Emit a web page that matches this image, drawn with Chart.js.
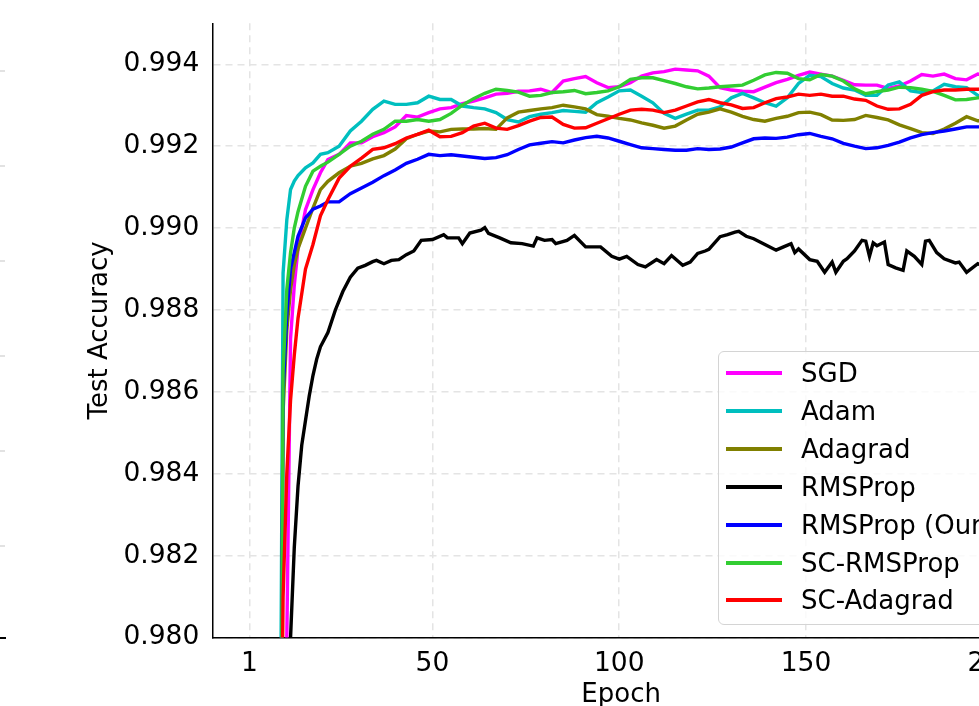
<!DOCTYPE html>
<html>
<head>
<meta charset="utf-8">
<script src="https://cdn.jsdelivr.net/npm/chart.js@4.4.0/dist/chart.umd.min.js"></script>
<style>
  html, body { margin: 0; padding: 0; background: #fff; overflow: hidden; width: 979px; height: 706px; }
  #c { position: absolute; left: 0; top: 0; }
  #legend {
    position: absolute; left: 718px; top: 351px; width: 320px; height: 274px;
    border: 1.3px solid #d4d4d4; border-radius: 6px; background: rgba(255,255,255,0.8);
    box-sizing: border-box; font-family: 'DejaVu Sans'; font-size: 26px; color: #000;
  }
  .row { position: absolute; left: 0; width: 320px; height: 38px; line-height: 38px; white-space: nowrap; }
  .swatch { position: absolute; left: 7px; top: 17px; width: 56px; height: 4px; }
  .label { position: absolute; left: 82px; top: 0; }
  .edge { position: absolute; left: 0; width: 5px; height: 1.5px; background: #e2e2e2; }
</style>
</head>
<body>
<canvas id="c" width="1060" height="760"></canvas>
<div id="legend"></div>
<div id="edges"></div>
<script>
// -----------------------------
// Data
// -----------------------------
const epochs = [9, 10, 11, 12, 13, 14, 16, 18, 20, 22, 25, 28, 31, 34, 37, 40, 43, 46, 49, 52,
    55, 58, 61, 64, 67, 70, 73, 76, 79, 82, 85, 88, 91, 94, 97, 100,
    103, 106, 109, 112, 115, 118, 121, 124, 127, 130, 133, 136, 139, 142, 145,
    148, 151, 154, 157, 160, 163, 166, 169, 172, 175, 178, 181, 184, 187, 190, 193, 196, 200];

const sgd = [0.965, 0.972, 0.9800, 0.9873, 0.9886, 0.9895, 0.99045, 0.99094, 0.99135, 0.99167,
    0.9918, 0.99208, 0.99208, 0.99223, 0.99233, 0.99247, 0.99275, 0.99271, 0.99282, 0.99291,
    0.99294, 0.99304, 0.9931, 0.99318, 0.99327, 0.99329, 0.99334, 0.99335, 0.99339, 0.99331,
    0.99359, 0.99365, 0.9937, 0.99355, 0.99343, 0.99345,
    0.99355, 0.99371, 0.99379, 0.99382, 0.99388, 0.99386, 0.99384, 0.99371, 0.99343, 0.99337,
    0.99334, 0.99333, 0.99344, 0.99355, 0.99363,
    0.99373, 0.99381, 0.99376, 0.99371, 0.99361, 0.9935, 0.99349, 0.99349, 0.99341, 0.99347,
    0.99359, 0.99375, 0.99371, 0.99376, 0.99365, 0.99362, 0.99376, 0.9937];

const adam = [0.972, 0.9889, 0.9902, 0.99094, 0.99115, 0.99128, 0.99147, 0.99159, 0.9918, 0.99184,
    0.992, 0.99237, 0.99261, 0.9929, 0.9931, 0.99302, 0.99302, 0.99306, 0.99322, 0.99314,
    0.99314, 0.99298, 0.99294, 0.99291, 0.99282, 0.99265, 0.99259, 0.99272, 0.99278, 0.99282,
    0.99287, 0.99285, 0.99283, 0.99306, 0.9932, 0.99335,
    0.99337, 0.99322, 0.99306, 0.9928, 0.99268, 0.99278, 0.99288, 0.99288, 0.99296, 0.99318,
    0.99329, 0.99318, 0.99306, 0.99298, 0.99318,
    0.99353, 0.99373, 0.9937, 0.99353, 0.99342, 0.99337, 0.99324, 0.99324, 0.99349, 0.99357,
    0.99335, 0.99331, 0.99335, 0.99351, 0.99345, 0.99343, 0.99324, 0.9932];

const adagrad = [0.968, 0.9855, 0.9875, 0.9885, 0.9891, 0.9895, 0.9900, 0.99049, 0.99094, 0.99114,
    0.99135, 0.99151, 0.99158, 0.99169, 0.99177, 0.99193, 0.99218, 0.99229, 0.99237, 0.99235,
    0.99241, 0.99242, 0.99242, 0.99243, 0.99241, 0.99269, 0.99283, 0.99287, 0.99291, 0.99294,
    0.993, 0.99296, 0.99291, 0.99277, 0.99273, 0.99268,
    0.99264, 0.99257, 0.99251, 0.99244, 0.99249, 0.99264, 0.99278, 0.99283, 0.99291, 0.99283,
    0.99273, 0.99265, 0.99261, 0.99268, 0.99273,
    0.99282, 0.99283, 0.99277, 0.99264, 0.99263, 0.99265, 0.99275, 0.9927, 0.99264, 0.99252,
    0.99243, 0.99233, 0.99231, 0.99242, 0.99256, 0.99272, 0.99262, 0.9926];

const rmspropOurs = [0.970, 0.9860, 0.9879, 0.9890, 0.9894, 0.9898, 0.99025, 0.99046, 0.99054, 0.99064,
    0.99064, 0.99084, 0.99098, 0.99112, 0.99128, 0.99142, 0.99158, 0.99168, 0.9918, 0.99177,
    0.99179, 0.99176, 0.99173, 0.9917, 0.99172, 0.99179, 0.99192, 0.99203, 0.99207, 0.99211,
    0.99208, 0.99215, 0.99221, 0.99224, 0.9922, 0.99212,
    0.99204, 0.99196, 0.99194, 0.99192, 0.9919, 0.9919, 0.99194, 0.99192, 0.99193, 0.99198,
    0.99208, 0.99218, 0.9922, 0.99219, 0.99222,
    0.99228, 0.99231, 0.99224, 0.99218, 0.99207, 0.992, 0.99194, 0.99196, 0.99202, 0.9921,
    0.9922, 0.99228, 0.99233, 0.99237, 0.99242, 0.99247, 0.99247, 0.99248];

const scRmsprop = [0.968, 0.9865, 0.9885, 0.9894, 0.9900, 0.9904, 0.99102, 0.99139, 0.99151, 0.99161,
    0.9918, 0.992, 0.99212, 0.99229, 0.99241, 0.99261, 0.99261, 0.99265, 0.99261, 0.99265,
    0.9928, 0.993, 0.99316, 0.99329, 0.99339, 0.99336, 0.99332, 0.99322, 0.99324, 0.99331,
    0.99333, 0.99336, 0.99328, 0.99331, 0.99335, 0.99345,
    0.99363, 0.99367, 0.99367, 0.9936, 0.99353, 0.99345, 0.9934, 0.99342, 0.99345, 0.99347,
    0.99349, 0.99361, 0.99374, 0.9938, 0.99378,
    0.99365, 0.99362, 0.99375, 0.99371, 0.99359, 0.9934, 0.99328, 0.99333, 0.99337, 0.99344,
    0.99343, 0.99339, 0.99334, 0.99324, 0.99313, 0.99314, 0.99318, 0.9932];

const scAdagrad = [0.972, 0.9810, 0.9840, 0.9858, 0.9869, 0.9878, 0.9890, 0.9896, 0.9903, 0.99069,
    0.99122, 0.99151, 0.99171, 0.99192, 0.99196, 0.99206, 0.9922, 0.99229, 0.99239, 0.99223,
    0.99224, 0.99233, 0.99249, 0.99256, 0.99244, 0.99241, 0.9925, 0.99261, 0.9927, 0.99271,
    0.99253, 0.99244, 0.99245, 0.99256, 0.99267, 0.99278,
    0.99288, 0.9929, 0.99288, 0.99282, 0.99288, 0.99298, 0.99308, 0.99314, 0.99306, 0.99301,
    0.99292, 0.99294, 0.99306, 0.99316, 0.9932,
    0.99327, 0.99324, 0.99327, 0.99322, 0.99322, 0.99315, 0.99312, 0.99298, 0.9929, 0.99291,
    0.99302, 0.99324, 0.99333, 0.99337, 0.99337, 0.99339, 0.99339, 0.9934];

// RMSProp is noisier, so it has its own (denser) epoch list
const rmspropEpochs = [11, 12, 13, 14, 15, 16, 17, 18, 19, 20, 22, 24, 26, 28, 30, 32, 34, 35, 37, 39,
    41, 43, 45, 47, 50, 53, 54, 57, 58, 60, 63, 64, 65, 68, 71, 74, 77, 78, 80, 82,
    83, 86, 88, 91, 95, 98, 100, 102, 105, 107, 110, 112, 114, 117, 119, 121, 123, 124, 127, 129,
    131, 132, 134, 136, 139, 142, 144, 146, 147, 148, 151, 153, 155, 157, 158, 160, 161, 163, 165, 166,
    167, 168, 169, 171, 172, 174, 176, 177, 179, 181, 182, 183, 185, 187, 190, 191, 193, 196, 198, 200];

const rmsprop = [0.970, 0.9800, 0.9822, 0.9837, 0.9847, 0.9853, 0.9859, 0.9864, 0.9868, 0.9871,
    0.98745, 0.9880, 0.98845, 0.9888, 0.98902, 0.98909, 0.98918, 0.98921, 0.98913, 0.98921,
    0.98923, 0.98935, 0.98944, 0.9897, 0.98972, 0.98984, 0.98976, 0.98976, 0.98962, 0.98988,
    0.98995, 0.99001, 0.98987, 0.98976, 0.98964, 0.98962, 0.98956, 0.98976, 0.9897, 0.98972,
    0.98962, 0.9897, 0.98982, 0.98954, 0.98954, 0.98931, 0.98924, 0.98931, 0.98911, 0.98905,
    0.98923, 0.98913, 0.98933, 0.98909, 0.98917, 0.98938, 0.98944, 0.98948, 0.98979, 0.98984,
    0.9899, 0.98992, 0.9898, 0.98974, 0.9896, 0.98946, 0.98954, 0.98962, 0.9894, 0.98949,
    0.98923, 0.98919, 0.98892, 0.98917, 0.98892, 0.98919, 0.98925, 0.98944, 0.9897, 0.98968,
    0.98931, 0.98964, 0.98957, 0.98966, 0.98911, 0.98903, 0.98897, 0.98944, 0.98931, 0.98911,
    0.98968, 0.9897, 0.9894, 0.98925, 0.98915, 0.98917, 0.98892, 0.98913, 0.98905, 0.9891];

const seriesNames = ["SGD", "Adam", "Adagrad", "RMSProp", "RMSProp (Ours)", "SC-RMSProp", "SC-Adagrad"];
const seriesColors = ["#ff00ff", "#00bfbf", "#808000", "#000000", "#0000ff", "#32cd32", "#ff0000"];
const seriesValues = [sgd, adam, adagrad, rmsprop, rmspropOurs, scRmsprop, scAdagrad];
const seriesEpochs = [epochs, epochs, epochs, rmspropEpochs, epochs, epochs, epochs];

const xTicks = [1, 50, 100, 150, 200];
const yTicks = [0.980, 0.982, 0.984, 0.986, 0.988, 0.990, 0.992, 0.994];

// -----------------------------
// Chart
// -----------------------------
Chart.defaults.font.family = "'DejaVu Sans'";
Chart.defaults.color = "#000";

const datasets = seriesNames.map((name, i) => ({
    label: name,
    data: seriesEpochs[i].map((e, j) => ({ x: e, y: seriesValues[i][j] })),
    borderColor: seriesColors[i],
    borderWidth: 3.4,
    pointRadius: 0,
    tension: 0,
    fill: false,
    order: seriesNames.length - i   // later series drawn on top, like matplotlib
}));

const gridColor = "#e4e4e4";

// keep the plot box where the figure has it (no extra room for edge labels)
function noEdgePadding(s) {
    s.paddingTop = 0; s.paddingBottom = 0; s.paddingLeft = 0; s.paddingRight = 0;
}

new Chart(document.getElementById("c"), {
    type: "line",
    data: { datasets: datasets },
    options: {
        responsive: false,
        animation: false,
        events: [],
        layout: { padding: { left: 0, right: 30.1, top: 23.3, bottom: 0 } },
        plugins: { legend: { display: false }, tooltip: { enabled: false } },
        scales: {
            x: {
                type: "linear",
                min: -8.95,
                max: 209.95,
                afterBuildTicks: s => { s.ticks = xTicks.map(v => ({ value: v })); },
                afterFit: s => { s.height = 122.4; noEdgePadding(s); },
                ticks: { font: { size: 26.5 }, color: "#000", padding: 11, maxRotation: 0, autoSkip: false,
                         callback: v => String(v) },
                grid: { color: gridColor, lineWidth: 1.5, drawTicks: false },
                border: { display: true, color: "#000", width: 1.5, dash: [7, 5] },
                title: { display: true, text: "Epoch", font: { size: 26 }, color: "#000",
                         padding: { top: 0, bottom: 49 } }
            },
            y: {
                type: "linear",
                min: 0.980,
                max: 0.995,
                afterBuildTicks: s => { s.ticks = yTicks.map(v => ({ value: v })); },
                afterFit: s => { s.width = 212.3; noEdgePadding(s); },
                ticks: { font: { size: 26.5 }, color: "#000", padding: 13, autoSkip: false,
                         callback: v => v.toFixed(3) },
                grid: { color: gridColor, lineWidth: 1.5, drawTicks: false },
                border: { display: true, color: "#000", width: 1.5, dash: [7, 5] },
                title: { display: true, text: "Test Accuracy", font: { size: 26 }, color: "#000",
                         padding: { top: 85, bottom: 0 } }
            }
        }
    }
});

// -----------------------------
// Legend (lower right, inside axes)
// -----------------------------
const legend = document.getElementById("legend");
seriesNames.forEach((name, i) => {
    const row = document.createElement("div");
    row.className = "row";
    row.style.top = (2 + i * 37.9) + "px";
    row.innerHTML = `<div class="swatch" style="background:${seriesColors[i]}"></div><div class="label">${name}</div>`;
    legend.appendChild(row);
});

// edge of the neighbouring panel, cut by the crop
const edges = document.getElementById("edges");
[70, 165, 260, 355, 450, 545].forEach(y => {
    const d = document.createElement("div");
    d.className = "edge";
    d.style.top = y + "px";
    edges.appendChild(d);
});
const spine = document.createElement("div");
spine.className = "edge";
spine.style.cssText = "top:637px;width:6px;background:#000;";
edges.appendChild(spine);
</script>
</body>
</html>
